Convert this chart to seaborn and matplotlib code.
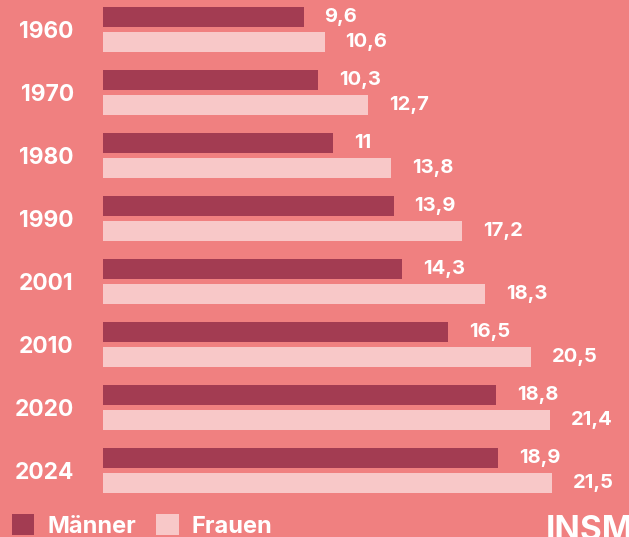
import pandas as pd
import matplotlib.pyplot as plt
import seaborn as sns

# Daten
jahre = ['1960', '1970', '1980', '1990', '2001', '2010', '2020', '2024']
maenner = [9.6, 10.3, 11, 13.9, 14.3, 16.5, 18.8, 18.9]
frauen = [10.6, 12.7, 13.8, 17.2, 18.3, 20.5, 21.4, 21.5]

bg = '#F08080'
farben = {'Männer': '#A33C52', 'Frauen': '#F8C8C8'}

df = pd.DataFrame({
    'Jahr': jahre * 2,
    'Wert': maenner + frauen,
    'Geschlecht': ['Männer'] * len(jahre) + ['Frauen'] * len(jahre),
})

sns.set_style('white')
plt.rcParams['font.family'] = ['Inter', 'DejaVu Sans']
plt.rcParams['font.weight'] = 'bold'

fig = plt.figure(figsize=(6.29, 5.37), dpi=100, facecolor=bg)
ax = fig.add_axes([103 / 629, 0, 1 - 103 / 629, 1])
ax.set_facecolor(bg)

sns.barplot(data=df, y='Jahr', x='Wert', hue='Geschlecht', orient='h',
            palette=farben, width=0.8, gap=0.2, ax=ax, legend=True,
            edgecolor='none', saturation=1)

# Wertebeschriftung mit Komma
for cont in ax.containers:
    labels = [f'{v:g}'.replace('.', ',') for v in cont.datavalues]
    ax.bar_label(cont, labels=labels, padding=15, color='white',
                 fontsize=14.5, fontweight='bold')

ax.set_xlim(0, 526 / 20.9)
ax.set_ylim((537 - 29.5) / 63, -29.5 / 63)
ax.set_xlabel('')
ax.set_ylabel('')
ax.set_xticks([])
ax.tick_params(axis='y', length=0, pad=21, labelsize=16.4, labelcolor='white')
for t in ax.get_yticklabels():
    t.set_fontweight('bold')
sns.despine(ax=ax, left=True, bottom=True)

# Legende unten
handles, labs = ax.get_legend_handles_labels()
ax.get_legend().remove()
fig.legend(handles, labs, loc='center left', bbox_to_anchor=(12 / 629, 1 - 526 / 537),
           ncol=2, frameon=False, fontsize=17, labelcolor='white',
           handlelength=0.95, handleheight=1.0, handletextpad=0.55,
           columnspacing=0.85, borderaxespad=0, borderpad=0)

fig.text(546 / 629, 1 - 515 / 537, 'INSM', color='white', fontsize=24,
         fontweight='bold', va='top', ha='left')

fig.savefig('out.png', dpi=100, facecolor=bg)
